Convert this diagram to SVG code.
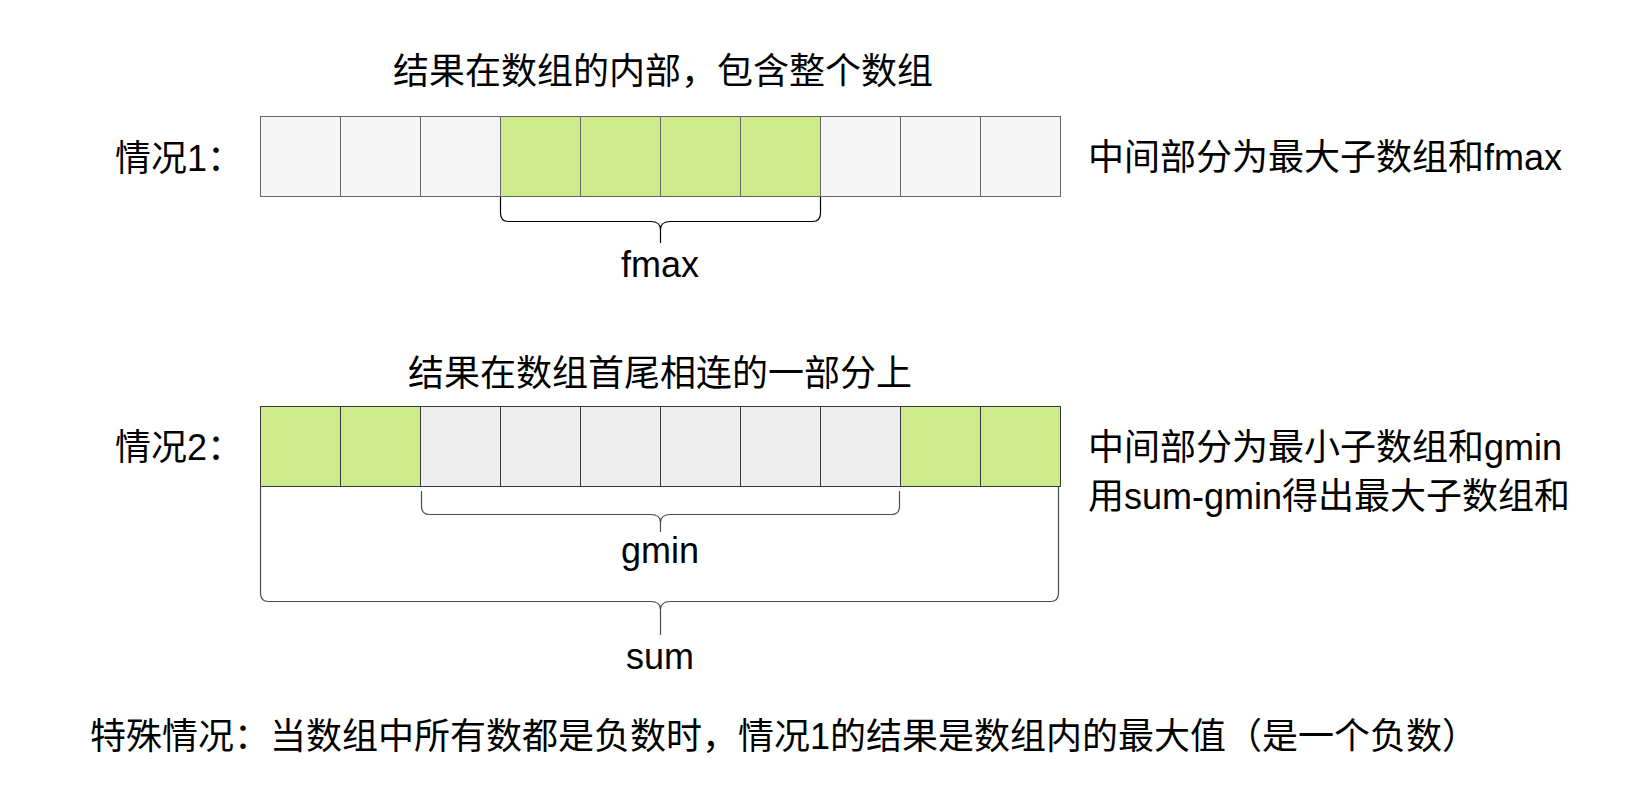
<svg xmlns="http://www.w3.org/2000/svg" width="1651" height="808" viewBox="0 0 1651 808">
<style>
.t{font-family:"Liberation Sans","Noto Sans CJK SC",sans-serif;font-size:36px;fill:#000}
.m{text-anchor:middle}
.c1{fill:#f5f5f5;stroke:#666666;stroke-width:1}
.c2{fill:#eeeeee;stroke:#36393d;stroke-width:1}
.g1{fill:#cdeb8b;stroke:#666666;stroke-width:1}
.g2{fill:#cdeb8b;stroke:#36393d;stroke-width:1}
.br{fill:none;stroke-width:1.2}
</style>
<rect x="0" y="0" width="1651" height="808" fill="#ffffff"/>
<g id="title1"><text class="t m" x="663" y="84">结果在数组的内部，包含整个数组</text></g>
<g id="label1"><text class="t" x="115" y="171">情况1：</text></g>
<g id="row1">
<rect class="c1" x="260.5" y="116.5" width="80" height="80"/>
<rect class="c1" x="340.5" y="116.5" width="80" height="80"/>
<rect class="c1" x="420.5" y="116.5" width="80" height="80"/>
<rect class="g1" x="500.5" y="116.5" width="80" height="80"/>
<rect class="g1" x="580.5" y="116.5" width="80" height="80"/>
<rect class="g1" x="660.5" y="116.5" width="80" height="80"/>
<rect class="g1" x="740.5" y="116.5" width="80" height="80"/>
<rect class="c1" x="820.5" y="116.5" width="80" height="80"/>
<rect class="c1" x="900.5" y="116.5" width="80" height="80"/>
<rect class="c1" x="980.5" y="116.5" width="80" height="80"/>
</g>
<g id="desc1"><text class="t" x="1088" y="170">中间部分为最大子数组和fmax</text></g>
<g id="title2"><text class="t m" x="660" y="386">结果在数组首尾相连的一部分上</text></g>
<g id="label2"><text class="t" x="115" y="460">情况2：</text></g>
<g id="row2">
<rect class="g2" x="260.5" y="406.5" width="80" height="80"/>
<rect class="g2" x="340.5" y="406.5" width="80" height="80"/>
<rect class="c2" x="420.5" y="406.5" width="80" height="80"/>
<rect class="c2" x="500.5" y="406.5" width="80" height="80"/>
<rect class="c2" x="580.5" y="406.5" width="80" height="80"/>
<rect class="c2" x="660.5" y="406.5" width="80" height="80"/>
<rect class="c2" x="740.5" y="406.5" width="80" height="80"/>
<rect class="c2" x="820.5" y="406.5" width="80" height="80"/>
<rect class="g2" x="900.5" y="406.5" width="80" height="80"/>
<rect class="g2" x="980.5" y="406.5" width="80" height="80"/>
</g>
<g id="desc2">
<text class="t" x="1088" y="460">中间部分为最小子数组和gmin</text>
<text class="t" x="1088" y="509">用sum-gmin得出最大子数组和</text>
</g>
<g id="connectors">
<path class="br" stroke="#000" d="M500.5,197 L500.5,213 Q500.5,221.5 508.5,221.5 L650.5,221.5 Q660.5,221.5 660.5,229.5 L660.5,243 M660.5,229.5 Q660.5,221.5 670.5,221.5 L812.5,221.5 Q820.5,221.5 820.5,213 L820.5,197"/>
<path class="br" stroke="#4d4d4d" d="M421.5,491 L421.5,506 Q421.5,514.5 429.5,514.5 L650.5,514.5 Q660.5,514.5 660.5,522.5 L660.5,532 M660.5,522.5 Q660.5,514.5 670.5,514.5 L891.5,514.5 Q899.5,514.5 899.5,506 L899.5,491"/>
<path class="br" stroke="#4d4d4d" d="M260.5,487 L260.5,593 Q260.5,601.5 268.5,601.5 L650.5,601.5 Q660.5,601.5 660.5,609.5 L660.5,635 M660.5,609.5 Q660.5,601.5 670.5,601.5 L1050.5,601.5 Q1058.5,601.5 1058.5,593 L1058.5,487"/>
</g>
<g id="fmax"><text class="t m" x="660" y="277">fmax</text></g>
<g id="gmin"><text class="t m" x="660" y="563">gmin</text></g>
<g id="sum"><text class="t m" x="660" y="669">sum</text></g>
<g id="note"><text class="t" x="90" y="749">特殊情况：当数组中所有数都是负数时，情况1的结果是数组内的最大值（是一个负数）</text></g>
</svg>
